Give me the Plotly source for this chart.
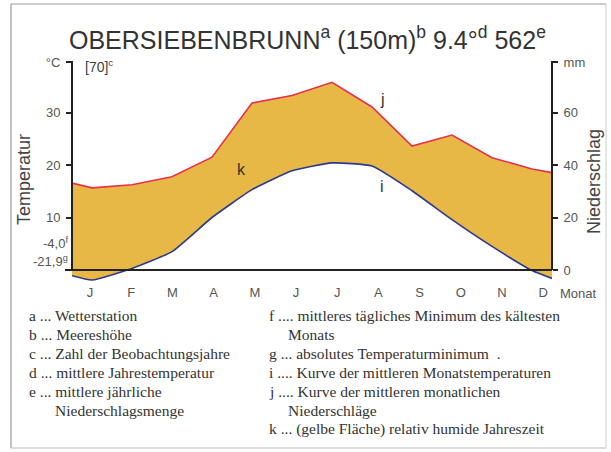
import plotly.graph_objects as go

# ---------------- data ----------------
months = ['J', 'F', 'M', 'A', 'M', 'J', 'J', 'A', 'S', 'O', 'N', 'D']
temp_c = [-1.9, 0.3, 3.5, 10.0, 15.3, 18.9, 20.4, 19.8, 15.1, 9.6, 4.5, -0.1]
temp_edges = [-1.1, -1.6]          # curve value at left / right border of the diagram
precip_mm = [31.3, 32.5, 35.5, 43.0, 63.6, 66.5, 71.5, 62.1, 47.2, 51.4, 42.8, 38.5]
precip_edges = [33.1, 37.1]
left_ticks = [10, 20, 30]
right_ticks = [0, 20, 40, 60]
extreme_labels = ['-4,0<sup>f</sup>', '-21,9<sup>g</sup>']
title_text = 'OBERSIEBENBRUNN<sup>a</sup> (150m)<sup>b</sup> 9.4°<sup>d</sup> 562<sup>e</sup>'
legend_left = ['a ... Wetterstation', 'b ... Meereshöhe', 'c ... Zahl der Beobachtungsjahre',
               'd ... mittlere Jahrestemperatur', 'e ... mittlere jährliche',
               '     Niederschlagsmenge']
legend_right = ['f .... mittleres tägliches Minimum des kältesten', '     Monats',
                'g ... absolutes Temperaturminimum  .', 'i .... Kurve der mittleren Monatstemperaturen',
                'j .... Kurve der mittleren monatlichen', '     Niederschläge',
                'k ... (gelbe Fläche) relativ humide Jahreszeit']

# ---------------- geometry ----------------
W, H = 611, 452
L, R, T, B = 72, 552, 62, 283
Y0 = 270                      # pixel row of 0 °C / 0 mm
PPD = 5.25                    # pixels per °C
hi = (Y0 - T) / PPD
lo = -(B - Y0) / PPD


def px(x):
    return (x - L) / (R - L)


def py(y):
    return (B - y) / (B - T)


xs = [0] + [i + 0.5 for i in range(12)] + [12]
t_all = [temp_edges[0]] + temp_c + [temp_edges[1]]
p_all = [precip_edges[0]] + precip_mm + [precip_edges[1]]

fill_col = '#E8B846'
red = '#E8304A'
blue = '#2B3990'
t_shape = dict(shape='spline', smoothing=0.45)

fig = go.Figure()
fig.add_trace(go.Scatter(x=xs, y=t_all, mode='lines', line=dict(width=0, **t_shape),
                         showlegend=False, hoverinfo='skip'))
fig.add_trace(go.Scatter(x=xs, y=[p / 2 for p in p_all], mode='lines', line=dict(width=0),
                         fill='tonexty', fillcolor=fill_col, showlegend=False, hoverinfo='skip'))
fig.add_trace(go.Scatter(x=xs, y=p_all, mode='lines', yaxis='y2',
                         line=dict(color=red, width=1.6), showlegend=False))
fig.add_trace(go.Scatter(x=xs, y=t_all, mode='lines',
                         line=dict(color=blue, width=1.6, **t_shape), showlegend=False))

tick_font = dict(family='Liberation Sans, Arial, sans-serif', size=13, color='#555')
month_pos = [0.45 + i * 1.03 for i in range(12)]

fig.update_layout(
    width=W, height=H,
    margin=dict(l=L, r=W - R, t=T, b=H - B, pad=0, autoexpand=False),
    paper_bgcolor='white', plot_bgcolor='rgba(0,0,0,0)',
    showlegend=False,
    xaxis=dict(range=[0, 12], tickvals=month_pos, ticktext=months, ticks='',
               showgrid=False, zeroline=False, showline=False, tickfont=tick_font,
               fixedrange=True, automargin=False),
    yaxis=dict(range=[lo, hi], tickvals=left_ticks + [hi],
               ticktext=[str(v) for v in left_ticks] + ['°C'],
               ticks='outside', ticklen=5, tickwidth=1.5, tickcolor='#222',
               showgrid=False, zeroline=False, showline=False, tickfont=tick_font,
               ticklabelstandoff=3, automargin=False),
    yaxis2=dict(range=[2 * lo, 2 * hi], overlaying='y', side='right',
                tickvals=right_ticks + [2 * hi],
                ticktext=[str(v) for v in right_ticks] + ['mm'],
                ticks='outside', ticklen=5, tickwidth=1.5, tickcolor='#222',
                showgrid=False, zeroline=False, showline=False, tickfont=tick_font,
                ticklabelstandoff=3, automargin=False),
)

line_col = '#222'
shapes = [
    dict(type='line', xref='paper', yref='paper', x0=0, x1=0, y0=py(Y0), y1=py(T - 1),
         line=dict(color=line_col, width=2)),
    dict(type='line', xref='paper', yref='paper', x0=1, x1=1, y0=py(Y0), y1=py(T - 1),
         line=dict(color=line_col, width=2)),
    dict(type='line', xref='paper', yref='paper', x0=px(65), x1=1, y0=py(Y0), y1=py(Y0),
         line=dict(color=line_col, width=2.2)),
    # outer frame
    dict(type='line', xref='paper', yref='paper', x0=px(11), x1=px(11), y0=py(448), y1=py(4),
         line=dict(color='#999', width=1.2)),
    dict(type='line', xref='paper', yref='paper', x0=px(11), x1=px(606), y0=py(4), y1=py(4),
         line=dict(color='#999', width=1.2)),
    dict(type='line', xref='paper', yref='paper', x0=px(11), x1=px(606), y0=py(448), y1=py(448),
         line=dict(color='#bbb', width=1)),
    dict(type='line', xref='paper', yref='paper', x0=px(606), x1=px(606), y0=py(448), y1=py(4),
         line=dict(color='#ccc', width=1)),
]
fig.update_layout(shapes=shapes)

sans = 'Liberation Sans, Arial, sans-serif'
serif = 'Liberation Serif, Times New Roman, serif'
ann = []


def add(text, x, y, size, family=sans, color='#333', xanchor='center', angle=0):
    ann.append(dict(text=text, x=px(x), y=py(y), xref='paper', yref='paper',
                    showarrow=False, xanchor=xanchor, yanchor='middle',
                    font=dict(family=family, size=size, color=color), textangle=angle))


add(title_text, 307, 38, 25, color='#333')
add('[70]<sup>c</sup>', 83, 66, 14, color='#444', xanchor='left')
add('Temperatur', 24, 180, 18, color='#444', angle=-90)
add('Niederschlag', 594, 182, 18, color='#444', angle=-90)
add('Monat', 558, 293, 13, color='#555', xanchor='left')
add('j', 382, 99, 16)
add('k', 241, 169, 16)
add('i', 382, 186, 16)
add(extreme_labels[0], 70, 243, 13, color='#555', xanchor='right')
add(extreme_labels[1], 70, 261, 13, color='#555', xanchor='right')

for i, txt in enumerate(legend_left):
    xx = 27 if not txt.startswith(' ') else 53
    add(txt.strip(), xx, 315 + i * 19, 15.5, family=serif, color='#333', xanchor='left')
for i, txt in enumerate(legend_right):
    xx = 267 if not txt.startswith(' ') else 286
    add(txt.strip(), xx, 315 + i * 19, 15.5, family=serif, color='#333', xanchor='left')

fig.update_layout(annotations=ann)
fig.write_html('out.html', config={'displayModeBar': False},
               post_script="document.body.style.margin='0px';document.body.style.overflow='hidden';")
